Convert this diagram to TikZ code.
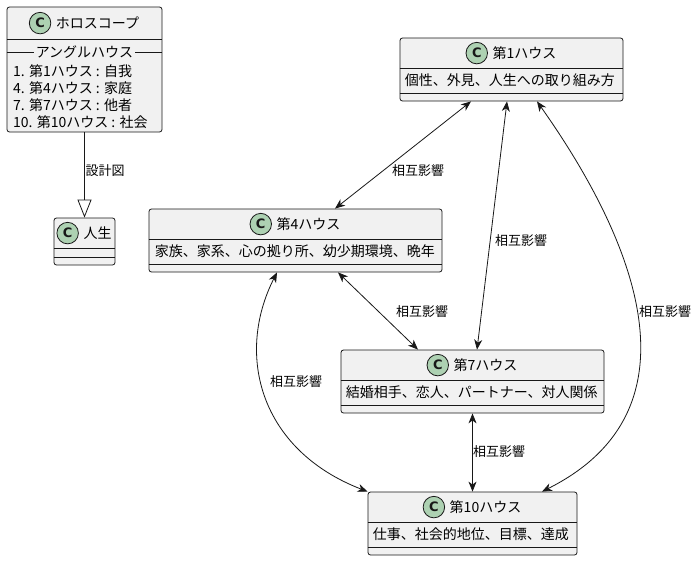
\documentclass[tikz,border=0pt]{standalone}
\usepackage{fontspec}
\setmainfont{Noto Sans CJK JP}
\newfontfamily\badgefont{DejaVu Sans}
\usetikzlibrary{arrows.meta,calc,positioning}
\definecolor{umlfill}{HTML}{F1F1F1}
\definecolor{umlline}{HTML}{181818}
\definecolor{umlbadge}{HTML}{ADD1B2}

\tikzset{
  classbox/.style={draw=umlline,fill=umlfill,rounded corners=2.5pt,line width=.8pt,inner sep=0pt},
  sepline/.style={draw=umlline,line width=.8pt},
  badge/.style={circle,draw=umlline,fill=umlbadge,line width=.8pt,minimum size=21.5pt,inner sep=0pt,
    text=umlline,font=\badgefont\bfseries\fontsize{13}{13}\selectfont},
  ctitle/.style={inner sep=0pt,font=\fontsize{14}{17}\selectfont},
  member/.style={inner sep=0pt,font=\fontsize{14}{17}\selectfont},
  link/.style={draw=umlline,line width=.8pt,{Stealth[length=10pt,width=8pt,inset=3pt]}-{Stealth[length=10pt,width=8pt,inset=3pt]}},
  lbl/.style={inner sep=1pt,font=\fontsize{13}{15}\selectfont},
}

\begin{document}
\begin{tikzpicture}[x=1pt,y=-1pt]
  \useasboundingbox[fill=white] (0,0) rectangle (698,562);

  % classes
  \node[classbox,minimum width=155pt,minimum height=125pt] (horo) at (84.5,69.5) {};
  \node[classbox,minimum width=61pt,minimum height=47pt] (life) at (84.5,241.5) {};
  \node[classbox,minimum width=223pt,minimum height=63pt] (c1) at (511.5,69.5) {};
  \node[classbox,minimum width=293pt,minimum height=63pt] (c4) at (295.5,240.5) {};
  \node[classbox,minimum width=263pt,minimum height=63pt] (c7) at (472.5,381.5) {};
  \node[classbox,minimum width=209pt,minimum height=63pt] (c10) at (472.5,523.5) {};

  % compartments
  \foreach \c in {life,c1,c4,c7,c10} {
    \draw[sepline] ([yshift=-31pt]\c.north west) -- ([yshift=-31pt]\c.north east);
    \draw[sepline] ([yshift=8pt]\c.south west) -- ([yshift=8pt]\c.south east);
  }
  \draw[sepline] ([yshift=-33pt]horo.north west) -- ([yshift=-33pt]horo.north east);
  \draw[sepline] ([yshift=-46pt]horo.north west) -- ([yshift=-46pt]horo.north east);

  % headers
  \foreach \c/\name/\dy in {horo/ホロスコープ/16.5,life/人生/15.5,c1/第1ハウス/15.5,c4/第4ハウス/15.5,c7/第7ハウス/15.5,c10/第10ハウス/15.5} {
    \node[ctitle] (\c t) at ([xshift=13pt,yshift=-\dy pt]\c.north) {\name};
    \node[badge,left=4.5pt of \c t] (\c b) {C};
  }

  % members
  \node[member,fill=umlfill,inner xsep=2pt] (horosec) at ([yshift=-46pt]horo.north) {アングルハウス};
  \foreach \i/\y/\txt in {1/71/{1. 第1ハウス : 自我},4/88/{4. 第4ハウス : 家庭},7/105/{7. 第7ハウス : 他者},10/122/{10. 第10ハウス : 社会}} {
    \node[member,anchor=west] (horom\i) at (13,\y) {\txt};
  }
  \node[member,anchor=west] (c1m) at ([xshift=5pt,yshift=-43pt]c1.north west) {個性、外見、人生への取り組み方};
  \node[member,anchor=west] (c4m) at ([xshift=6pt,yshift=-43pt]c4.north west) {家族、家系、心の拠り所、幼少期環境、晩年};
  \node[member,anchor=west] (c7m) at ([xshift=5pt,yshift=-43pt]c7.north west) {結婚相手、恋人、パートナー、対人関係};
  \node[member,anchor=west] (c10m) at ([xshift=5pt,yshift=-43pt]c10.north west) {仕事、社会的地位、目標、達成};

  % links
  \draw[draw=umlline,line width=.8pt,-{Triangle[open,fill=white,length=18pt,width=14pt]}] (horo.south) -- (life.north);
  \draw[link] ([xshift=-40.5pt]c1.south) -- ([xshift=39.5pt]c4.north);
  \draw[link] ([xshift=-4.5pt]c1.south) -- ([xshift=4.5pt]c7.north);
  \draw[link] ([xshift=25.5pt]c1.south) .. controls (635,240) and (705,410) .. ([xshift=69.5pt]c10.north);
  \draw[link] ([xshift=42.5pt]c4.south) -- ([xshift=-54.5pt]c7.north);
  \draw[link] ([xshift=-18.5pt]c4.south) .. controls (235,355) and (260,450) .. (c10.north west);
  \draw[link] (c7.south) -- (c10.north);

  % labels
  \node[lbl] (lplan) at (105,171) {設計図};
  \node[lbl] (l14) at (418,171) {相互影響};
  \node[lbl] (l17) at (521,241) {相互影響};
  \node[lbl] (l110) at (665,312) {相互影響};
  \node[lbl] (l47) at (422,312) {相互影響};
  \node[lbl] (l410) at (296,382) {相互影響};
  \node[lbl] (l710) at (499,452) {相互影響};
\end{tikzpicture}
\end{document}
